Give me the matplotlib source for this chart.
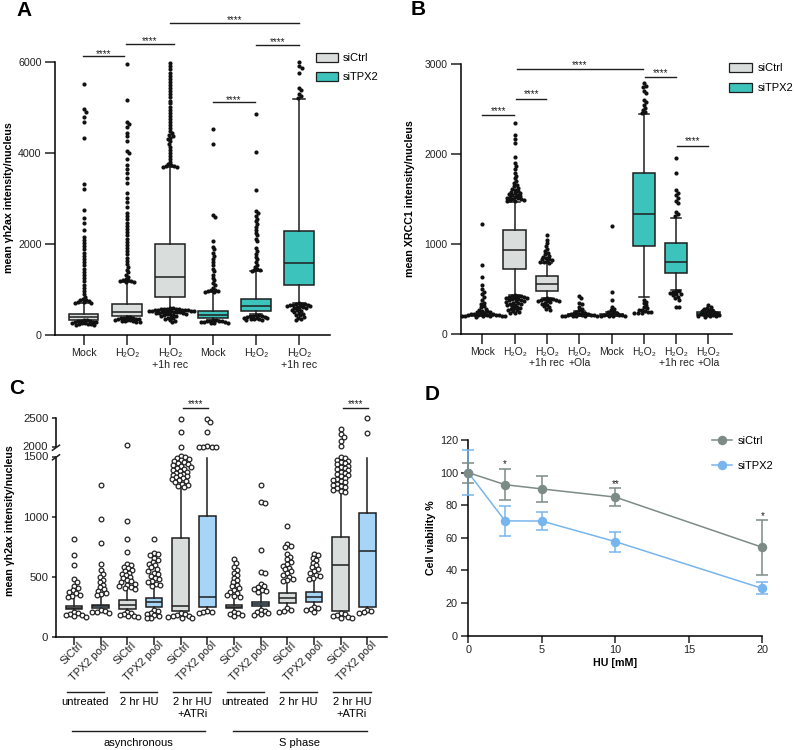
import numpy as np
import matplotlib
matplotlib.use("Agg")
import matplotlib.pyplot as plt
import matplotlib.transforms as mtransforms
from matplotlib.patches import Patch
from matplotlib.lines import Line2D

plt.rcParams['font.family'] = ['Liberation Sans', 'DejaVu Sans']
plt.rcParams['axes.linewidth'] = 1.1
plt.rcParams['xtick.major.width'] = 1.1
plt.rcParams['ytick.major.width'] = 1.1
plt.rcParams['xtick.color'] = '#222222'
plt.rcParams['ytick.color'] = '#222222'

# ---------------- data ----------------
GRAY = '#d9dddc'
TEAL = '#3cc4bc'
LBLUE = '#a7d5f7'
EDGE = '#1e1e1e'

# panel A: mean yh2ax intensity
A_labels = ['Mock', 'H₂O₂', 'H₂O₂\n+1h rec', 'Mock', 'H₂O₂', 'H₂O₂\n+1h rec']
A_q1 = [330, 425, 843, 366, 520, 1110]
A_med = [389, 513, 1268, 440, 638, 1590]
A_q3 = [455, 675, 2000, 535, 792, 2290]
A_lo = [300, 360, 570, 340, 460, 700]
A_hi = [697, 1158, 3687, 940, 1407, 5182]
A_out = [
    [5512, 4962, 4911, 4800, 4690, 4325, 3313, 3203, 2748, 2565, 2455, 2308, 2160, 2090, 2020,
     1950, 1880, 1810, 1740, 1670, 1600, 1530, 1460, 1390, 1320, 1250, 1180, 1110, 1040, 970,
     900, 840, 790, 760, 740, 720, 710, 700, 730, 770,
     330, 325, 318, 310, 302, 296, 288, 280, 270, 262, 255, 248, 240, 232, 225, 220],
    [5950, 5167, 4690, 4640, 4580, 4450, 4380, 4270, 4050, 4000, 3870, 3740, 3650, 3560, 3460,
     3340, 3120, 3010, 2930, 2815, 2680, 2610, 2540, 2470, 2400, 2330, 2260, 2190, 2120, 2050,
     1980, 1910, 1840, 1770, 1700, 1630, 1560, 1500, 1440, 1380, 1330, 1280, 1240, 1200, 1180,
     1165, 1170, 1190, 1210,
     400, 390, 380, 372, 365, 358, 350, 342, 335, 328, 320, 312, 305, 298, 292, 288],
    [5973, 5905, 5840, 5770, 5700, 5635, 5565, 5500, 5430, 5360, 5290, 5225, 5155, 5090, 5020,
     4950, 4885, 4815, 4750, 4680, 4610, 4545, 4480, 4430, 4400, 4370, 4340, 4310, 4270, 4210,
     4140, 4075, 4005, 3940, 3870, 3805, 3760, 3730, 3710, 3695, 3700, 3720,
     590, 585, 580, 575, 570, 566, 562, 558, 554, 550, 546, 542, 538, 534, 530, 526, 522, 518,
     514, 510, 505, 500, 495, 490, 484, 478, 470, 462, 454, 445, 435, 425, 412, 398, 384, 368,
     352, 335, 315, 295],
    [4522, 4207, 2640, 2600, 2073, 1940, 1880, 1800, 1740, 1670, 1600, 1530, 1460, 1400, 1330,
     1260, 1200, 1140, 1090, 1040, 1000, 975, 955, 945, 960, 985,
     330, 325, 318, 312, 305, 298, 292, 285, 278, 270, 263, 258],
    [4852, 4031, 3188, 2733, 2690, 2620, 2560, 2500, 2440, 2382, 2316, 2250, 2190, 2120, 2060,
     1913, 1850, 1790, 1720, 1660, 1600, 1540, 1495, 1450, 1420, 1410, 1430,
     440, 432, 424, 416, 408, 400, 392, 384, 376, 368, 360, 352, 344, 336, 330],
    [5996, 5915, 5880, 5768, 5430, 5380, 5300, 5250, 5220,
     697, 690, 682, 675, 668, 660, 652, 645, 636, 628, 618, 608, 596, 584, 570, 555, 540, 522,
     505, 488, 470, 450, 430, 405, 380, 350, 330],
]
A_sig = [(0.98, 1.93, 6128), (1.98, 3.09, 6405), (3.0, 6.0, 6867), (5.0, 6.0, 6383), (4.0, 4.98, 5123)]

# panel B: mean XRCC1 intensity
B_labels = ['Mock', 'H₂O₂', 'H₂O₂\n+1h rec', 'H₂O₂\n+Ola', 'Mock', 'H₂O₂', 'H₂O₂\n+1h rec', 'H₂O₂\n+Ola']
B_q1 = [205, 722, 481, 205, 205, 978, 681, 210]
B_med = [212, 933, 552, 212, 212, 1333, 804, 220]
B_q3 = [222, 1156, 644, 225, 222, 1793, 1007, 240]
B_lo = [200, 433, 396, 200, 200, 415, 489, 200]
B_hi = [250, 1470, 785, 260, 250, 2441, 1293, 270]
B_out = [
    [1222, 767, 637, 544, 500, 470, 440, 410, 380, 350, 330, 310, 295, 282, 270, 260, 252, 245,
     240, 235, 230, 226, 222, 219, 216, 213, 210, 208, 206, 204, 202, 200, 198, 196, 195, 194],
    [2341, 2211, 2170, 2119, 1970, 1900, 1870, 1830, 1790, 1760, 1730, 1700, 1675, 1655, 1640,
     1625, 1612, 1600, 1590, 1580, 1570, 1562, 1555, 1548, 1540, 1533, 1526, 1520, 1514, 1508,
     1502, 1496, 1490, 1485, 1480, 1475,
     430, 426, 422, 418, 414, 410, 405, 400, 395, 390, 385, 380, 374, 368, 362, 356, 350, 344,
     338, 332, 325, 318, 310, 302, 294, 286, 278, 270, 262, 254, 246, 238, 230],
    [1100, 1044, 1010, 980, 950, 925, 905, 888, 872, 860, 848, 838, 828, 818, 810, 802, 795, 788,
     396, 392, 388, 384, 380, 376, 372, 368, 362, 355, 347, 338, 325, 310, 295, 280, 267],
    [422, 396, 350, 330, 300, 280, 262, 250, 242, 236, 230, 226, 222, 218, 215, 212, 210, 208,
     205, 203, 201, 199, 197, 196],
    [1200, 467, 378, 303, 280, 262, 250, 240, 232, 226, 221, 216, 212, 208, 205, 202, 199, 196],
    [2785, 2760, 2740, 2700, 2674, 2600, 2580, 2540, 2510, 2489, 2470, 2455,
     378, 360, 340, 320, 300, 284, 272, 262, 254, 246, 240, 236, 232, 230],
    [1959, 1793, 1600, 1570, 1540, 1510, 1480, 1452, 1359, 1330, 1315,
     482, 474, 466, 458, 450, 440, 428, 414, 398, 380, 303, 296],
    [322, 300, 290, 280, 270, 262, 255, 248, 242, 236, 230, 225, 220, 215, 210, 206, 202, 198,
     195, 192],
]
B_sig = [(1.0, 1.99, 2433), (2.05, 2.98, 2615), (2.06, 5.97, 2941), (6.03, 7.0, 2859), (7.04, 8.0, 2093)]

# panel C: yh2ax, HU / ATRi
C_labels = ['SiCtrl', 'TPX2 pool'] * 6
C_q1 = [233, 236, 228, 250, 214, 245, 236, 256, 283, 292, 217, 245]
C_med = [244, 253, 264, 286, 256, 328, 250, 272, 320, 333, 603, 717]
C_q3 = [256, 269, 306, 325, 825, 1008, 264, 292, 367, 375, 833, 1033]
C_lo = [215, 225, 215, 230, 200, 225, 215, 235, 250, 260, 205, 225]
C_hi = [330, 340, 389, 417, 1250, 1494, 330, 370, 458, 472, 1208, 1494]
C_out = [
    [819, 686, 603, 480, 458, 425, 405, 390, 375, 362, 350, 340, 335,
     210, 200, 192, 185, 178, 172, 167],
    [1272, 981, 786, 611, 556, 525, 498, 475, 455, 435, 415, 398, 382, 368, 356, 346,
     220, 214, 208, 203, 200],
    [2039, 964, 819, 708, 611, 598, 585, 572, 560, 548, 536, 524, 512, 500, 488, 476, 465, 454,
     444, 434, 424, 414, 404, 396,
     210, 200, 190, 182, 175, 170, 167],
    [819, 700, 694, 680, 662, 645, 628, 612, 596, 580, 565, 550, 536, 522, 508, 494, 480, 467,
     455, 444, 434, 425,
     225, 212, 200, 190, 180, 170, 160, 153],
    [2477, 2263, 2000,
     1514, 1505, 1496, 1487, 1478, 1470, 1461, 1452, 1444, 1436, 1428, 1420, 1412, 1404, 1396,
     1388, 1380, 1372, 1364, 1356, 1348, 1340, 1332, 1324, 1316, 1308, 1300, 1290, 1280, 1270,
     1260, 1252,
     194, 188, 182, 176, 170, 165, 160, 155],
    [2477, 2420, 2263, 2015, 2010, 2005, 2002, 2000,
     217, 210, 203, 197],
    [647, 617, 580, 556, 534, 512, 492, 472, 454, 436, 420, 404, 390, 376, 364, 352, 342, 335,
     210, 200, 190, 180, 172],
    [1270, 1125, 1122, 722, 542, 530, 444, 428, 414, 402, 392, 382, 374,
     226, 216, 206, 196, 188, 180],
    [922, 778, 762, 750, 694, 670, 648, 628, 610, 594, 578, 562, 546, 530, 515, 500, 486, 472, 462,
     236, 226, 216, 208],
    [694, 680, 660, 640, 620, 602, 585, 568, 552, 536, 520, 505, 492, 480,
     252, 240, 230, 220, 210],
    [2302, 2219, 2179, 2110, 2027,
     1500, 1490, 1480, 1470, 1460, 1450, 1440, 1430, 1420, 1410, 1400, 1390, 1380, 1370, 1360,
     1350, 1340, 1330, 1320, 1310, 1300, 1290, 1280, 1270, 1260, 1250, 1240, 1230, 1220, 1212,
     196, 188, 180, 172, 165, 158, 153],
    [2489, 2236,
     222, 212, 203, 196],
]
C_groups = ['untreated', '2 hr HU', '2 hr HU\n+ATRi', 'untreated', '2 hr HU', '2 hr HU\n+ATRi']
C_phase = ['asynchronous', 'S phase']
C_sig = [(5.1, 6.04, 2658), (11.1, 12.04, 2658)]

# panel D: viability vs HU
D_hu = [0, 2.5, 5, 10, 20]
D_ctrl = [100, 92.6, 90.0, 85.0, 54.2]
D_ctrl_err = [6.1, 9.4, 8.0, 5.6, 17.0]
D_tpx = [100, 70.4, 70.3, 57.7, 29.0]
D_tpx_err = [13.7, 9.1, 5.6, 6.1, 3.7]
D_stars = [(2.5, '*', 103.5), (10, '**', 91.2), (20, '*', 71.3)]

# ---------------- layout helpers ----------------
W, H = 795, 750
fig = plt.figure(figsize=(W / 100, H / 100), dpi=100)


def add_ax(x0, x1, ytop, ybot):
    return fig.add_axes([x0 / W, 1 - ybot / H, (x1 - x0) / W, (ybot - ytop) / H])


def fxy(x, y):
    return x / W, 1 - y / H


def px_shift(dx, dy):
    # offset in screen pixels (dy > 0 is up)
    return mtransforms.ScaledTranslation(dx / 100, dy / 100, fig.dpi_scale_trans)


def swarm_x(ax, xc, vals, d_px):
    # simple beeswarm: push overlapping points sideways (pixel space)
    vals = np.asarray(vals, float)
    pts = ax.transData.transform(np.column_stack([np.full(len(vals), xc), vals]))
    cx = pts[0, 0]
    placed = []
    offs = np.zeros(len(vals))
    for i in np.argsort(-vals):
        py = pts[i, 1]
        cands = [0.0]
        for qx, qy in placed:
            dy = abs(qy - py)
            if dy < d_px:
                dx = np.sqrt(d_px ** 2 - dy ** 2)
                cands += [qx + dx, qx - dx]
        cands.sort(key=abs)
        for c in cands:
            if all((c - qx) ** 2 + (py - qy) ** 2 >= d_px ** 2 - 1e-6 for qx, qy in placed):
                break
        placed.append((c, py))
        offs[i] = c
    back = ax.transData.inverted().transform(np.column_stack([cx + offs, pts[:, 1]]))
    return back[:, 0]


def draw_boxes(ax, pos, q1, med, q3, lo, hi, colors, width, capw, showcaps=True):
    stats = [dict(q1=a, med=m, q3=b, whislo=l, whishi=h)
             for a, m, b, l, h in zip(q1, med, q3, lo, hi)]
    bp = ax.bxp(stats, positions=pos, widths=width, patch_artist=True, showfliers=False,
                manage_ticks=False, capwidths=capw, showcaps=showcaps,
                boxprops=dict(edgecolor=EDGE, linewidth=1.1),
                medianprops=dict(color=EDGE, linewidth=1.1),
                whiskerprops=dict(color=EDGE, linewidth=1.1),
                capprops=dict(color=EDGE, linewidth=1.1))
    for patch, c in zip(bp['boxes'], colors):
        patch.set_facecolor(c)


def sig(ax, x0, x1, y, text='****', off=0.0, fs=7):
    ax.plot([x0, x1], [y, y], color=EDGE, lw=1.0, clip_on=False)
    ax.annotate(text, ((x0 + x1) / 2, y), xytext=(0, off), textcoords='offset points',
                ha='center', va='baseline', fontsize=fs, color=EDGE, annotation_clip=False)


def style_axes(ax, ticklen, fs):
    for s in ['top', 'right']:
        ax.spines[s].set_visible(False)
    ax.tick_params(direction='out', length=ticklen, labelsize=fs, pad=2.5)


# ---------------- panel A ----------------
ax_a = add_ax(55, 330, 16.6, 335)
A_pos = np.arange(1, 7)
ax_a.set_xlim(0.33, 6.72)
ax_a.set_ylim(0, 7000)
style_axes(ax_a, 7.2, 7.7)
ax_a.spines['left'].set_bounds(0, 6000)
ax_a.set_yticks([0, 2000, 4000, 6000])
ax_a.set_xticks(A_pos, A_labels)
A_cols = [GRAY] * 3 + [TEAL] * 3
draw_boxes(ax_a, A_pos, A_q1, A_med, A_q3, A_lo, A_hi, A_cols, 0.68, 0.28)
for p, vals in zip(A_pos, A_out):
    xs = swarm_x(ax_a, p, vals, 3.0)
    ax_a.plot(xs, vals, 'o', ms=3.0, color='#111111', mew=0, zorder=4, clip_on=False)
for x0, x1, y in A_sig:
    sig(ax_a, x0, x1, y, off=-0.6)
ax_a.legend(handles=[Patch(facecolor=GRAY, edgecolor=EDGE, lw=0.9, label='siCtrl'),
                     Patch(facecolor=TEAL, edgecolor=EDGE, lw=0.9, label='siTPX2')],
            loc='center left', bbox_to_anchor=fxy(316, 67.5), bbox_transform=fig.transFigure,
            frameon=False, fontsize=8, handlelength=2.0, handleheight=0.95,
            handletextpad=0.45, labelspacing=0.75, borderpad=0, borderaxespad=0)
fig.text(*fxy(9, 198), 'mean γh2ax intensity/nucleus', rotation=90, ha='center', va='center',
         fontsize=7.7, fontweight='bold')
fig.text(*fxy(24.5, 10), 'A', ha='center', va='center', fontsize=15, fontweight='bold')

# ---------------- panel B ----------------
ax_b = add_ax(461, 731.7, 37, 334)
B_pos = np.arange(1, 9)
ax_b.set_xlim(0.34, 8.72)
ax_b.set_ylim(0, 3300)
style_axes(ax_b, 7.2, 7.5)
ax_b.spines['left'].set_bounds(0, 3000)
ax_b.set_yticks([0, 1000, 2000, 3000])
ax_b.set_xticks(B_pos, B_labels)
for t in ax_b.get_xticklabels():
    t.set_linespacing(1.05)
B_cols = [GRAY] * 4 + [TEAL] * 4
draw_boxes(ax_b, B_pos, B_q1, B_med, B_q3, B_lo, B_hi, B_cols, 0.69, 0.33)
for p, vals in zip(B_pos, B_out):
    xs = swarm_x(ax_b, p, vals, 3.1)
    ax_b.plot(xs, vals, 'o', ms=3.0, color='#111111', mew=0, zorder=4, clip_on=False)
for x0, x1, y in B_sig:
    sig(ax_b, x0, x1, y, off=0.8)
ax_b.legend(handles=[Patch(facecolor=GRAY, edgecolor=EDGE, lw=0.9, label='siCtrl'),
                     Patch(facecolor=TEAL, edgecolor=EDGE, lw=0.9, label='siTPX2')],
            loc='center left', bbox_to_anchor=fxy(729, 78), bbox_transform=fig.transFigure,
            frameon=False, fontsize=8, handlelength=2.1, handleheight=0.95,
            handletextpad=0.45, labelspacing=0.85, borderpad=0, borderaxespad=0)
fig.text(*fxy(410, 199), 'mean XRCC1 intensity/nucleus', rotation=90, ha='center', va='center',
         fontsize=7.7, fontweight='bold')
fig.text(*fxy(418.5, 9.5), 'B', ha='center', va='center', fontsize=15, fontweight='bold')

# ---------------- panel C (broken y axis) ----------------
ax_c = add_ax(56, 386.7, 457.3, 636.7)
ax_ct = add_ax(56, 386.7, 417.7, 447.3)
C_pos = np.arange(1, 13)
for ax in (ax_c, ax_ct):
    ax.set_xlim(0.325, 12.73)
    ax.patch.set_visible(False)
ax_c.set_ylim(0, 1500)
ax_ct.set_ylim(2000, 2500)
style_axes(ax_c, 3, 8.2)
style_axes(ax_ct, 3, 8.2)
ax_c.tick_params(axis='x', length=6, pad=0.5, labelsize=7.9)
ax_ct.spines['bottom'].set_visible(False)
ax_ct.set_xticks([])
ax_c.set_yticks([0, 500, 1000, 1500])
ax_ct.set_yticks([2000, 2500])
# keep the 1500 / 2000 labels either side of the break
lab_1500 = ax_c.get_yticklabels()[-1]
lab_1500.set_va('top')
lab_1500.set_transform(lab_1500.get_transform() + px_shift(0, 5.5))
lab_2000 = ax_ct.get_yticklabels()[0]
lab_2000.set_va('bottom')
lab_2000.set_transform(lab_2000.get_transform() + px_shift(0, -4.5))
ax_c.set_xticks(C_pos, C_labels, rotation=45, ha='right', va='top', rotation_mode='anchor')
for t in ax_c.get_xticklabels():
    t.set_transform(t.get_transform() + px_shift(4, 6))
C_cols = [GRAY, LBLUE] * 6
draw_boxes(ax_c, C_pos, C_q1, C_med, C_q3, C_lo, C_hi, C_cols, 0.63, 0.0, showcaps=False)
for p, vals in zip(C_pos, C_out):
    vals = np.asarray(vals, float)
    for ax, sel in ((ax_c, vals < 1750), (ax_ct, vals >= 1750)):
        if sel.any():
            xs = swarm_x(ax, p, vals[sel], 4.3)
            ax.plot(xs, vals[sel], 'o', ms=3.4, mfc='white', mec='#222222', mew=0.9,
                    zorder=4, clip_on=False)
for x0, x1, y in C_sig:
    sig(ax_ct, x0, x1, y, off=0.8)
# break marks on the y axis
for yy in (452.5 + 4.8, 452.5 - 4.8):
    fig.add_artist(Line2D([52.5 / W, 59.5 / W], [1 - (yy + 2.5) / H, 1 - (yy - 2.5) / H],
                          color=EDGE, lw=1.1))
# group annotations under the x axis
blend = mtransforms.blended_transform_factory(ax_c.transData, fig.transFigure)
for k, name in enumerate(C_groups):
    p = 1 + 2 * k
    ax_c.plot([p - 0.27, p + 1.13], [1 - 691.7 / H] * 2, color=EDGE, lw=1.0,
              transform=blend, clip_on=False)
    ax_c.text(p + 0.43, 1 - 697 / H, name, transform=blend, ha='center', va='top',
              fontsize=8, linespacing=1.25)
for k, name in enumerate(C_phase):
    x0, x1 = (0.91, 5.91) if k == 0 else (6.97, 11.98)
    ax_c.plot([x0, x1], [1 - 731 / H] * 2, color=EDGE, lw=1.0, transform=blend, clip_on=False)
    ax_c.text((x0 + x1) / 2, 1 - 743.5 / H, name, transform=blend, ha='center', va='center',
              fontsize=8)
fig.text(*fxy(10, 521), 'mean γh2ax intensity/nucleus', rotation=90, ha='center', va='center',
         fontsize=7.7, fontweight='bold')
fig.text(*fxy(16.7, 388.5), 'C', ha='center', va='center', fontsize=15, fontweight='bold')

# ---------------- panel D ----------------
ax_d = add_ax(468.3, 762.3, 440, 635.7)
ax_d.set_xlim(0, 20)
ax_d.set_ylim(0, 120)
style_axes(ax_d, 5, 7.8)
ax_d.set_xticks([0, 5, 10, 15, 20])
ax_d.set_yticks(range(0, 121, 20))
ax_d.tick_params(axis='x', pad=1.5)
CTRL_C = '#7d8b86'
TPX_C = '#78b5ee'
ax_d.errorbar(D_hu, D_tpx, yerr=D_tpx_err, fmt='-o', color=TPX_C, ms=5.8, lw=1.1,
              elinewidth=1.1, capsize=4.5, capthick=1.1, clip_on=False, zorder=3)
ax_d.errorbar(D_hu, D_ctrl, yerr=D_ctrl_err, fmt='-o', color=CTRL_C, ms=5.8, lw=1.1,
              elinewidth=1.1, capsize=4.5, capthick=1.1, clip_on=False, zorder=4)
for x, s, y in D_stars:
    ax_d.text(x, y, s, ha='center', va='baseline', fontsize=7, color=EDGE)
ax_d.legend(handles=[Line2D([], [], color=CTRL_C, marker='o', ms=5.8, lw=1.1, label='siCtrl'),
                     Line2D([], [], color=TPX_C, marker='o', ms=5.8, lw=1.1, label='siTPX2')],
            loc='center left', bbox_to_anchor=fxy(712, 453.3), bbox_transform=fig.transFigure,
            frameon=False, fontsize=8, handlelength=1.8, handletextpad=0.5,
            labelspacing=1.3, borderpad=0, borderaxespad=0)
ax_d.set_xlabel('HU [mM]', fontsize=7.7, fontweight='bold', labelpad=2)
fig.text(*fxy(430.7, 538), 'Cell viability %', rotation=90, ha='center', va='center',
         fontsize=7.7, fontweight='bold')
fig.text(*fxy(432.5, 394), 'D', ha='center', va='center', fontsize=15, fontweight='bold')

fig.savefig('out.png', dpi=100)
